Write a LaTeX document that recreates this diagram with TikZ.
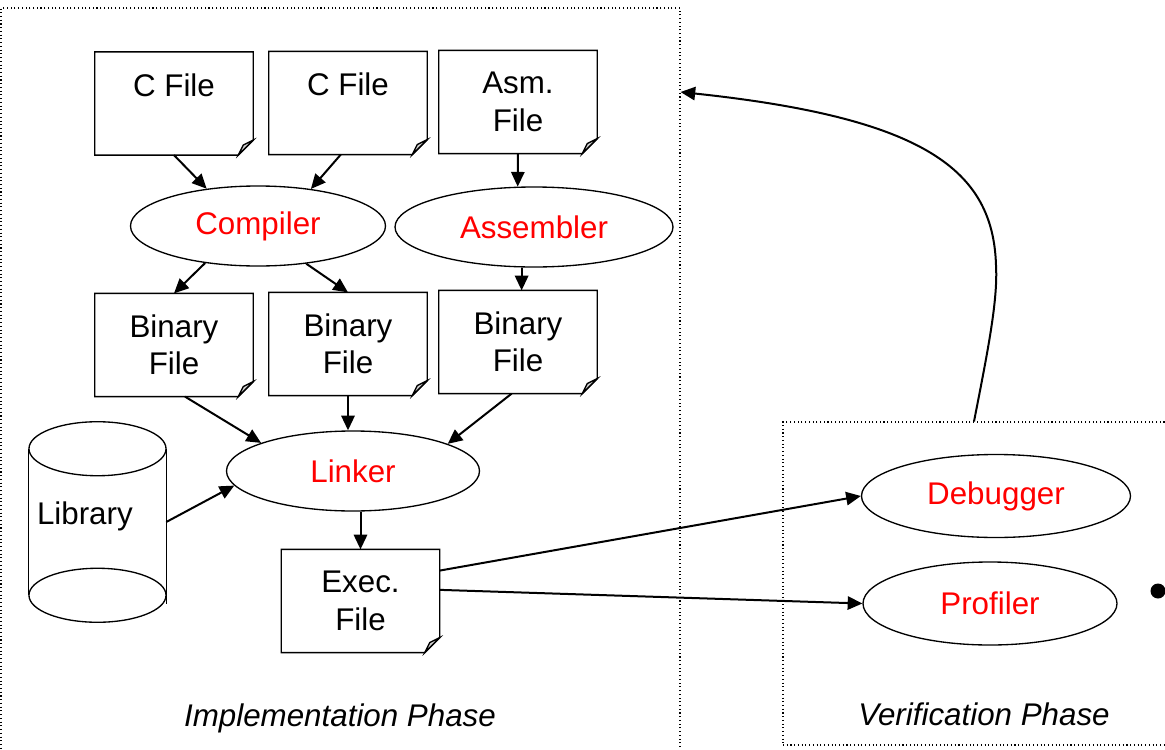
\documentclass[tikz,border=0pt]{standalone}
\usepackage{fontspec}
\setmainfont{Liberation Sans}
\usetikzlibrary{arrows.meta,shapes.geometric,positioning}

\begin{document}
\begin{tikzpicture}[x=0.75pt,y=-0.75pt,
  every node/.style={font=\fontsize{23.5}{28}\selectfont},
  file/.style={minimum width=118.5pt,minimum height=77pt,align=center,inner sep=0pt},
  tool/.style={ellipse,draw,line width=1pt,inner sep=0pt,minimum height=60pt,text=red},
  phase/.style={draw,dotted,line width=0.8pt,inner sep=0pt},
  note/.style={font=\itshape\fontsize{23.5}{28}\selectfont},
  link/.style={-{Triangle[length=11pt,width=10pt]},line width=1.5pt}]
\useasboundingbox (0,0) rectangle (1165,750);
\clip (0,0) rectangle (1165,750);

% phases
\node (impl) [phase,minimum width=509.25pt,minimum height=571.5pt] at (340.5,389) {};
\node (ver) [phase,minimum width=297.75pt,minimum height=242.25pt] at (981.5,583.5) {};
\node (implLbl) [note] at (340,718) {Implementation Phase};
\node (verLbl) [note] at (984,714) {Verification Phase};

% files
\node (cf1) [file] at (174,103.5) {C File\\\mbox{}};
\node (cf2) [file] at (348,103) {C File\\\mbox{}};
\node (asm) [file] at (518,102) {Asm.\\File};
\node (bin1) [file] at (174,345) {Binary\\File};
\node (bin2) [file] at (348,344) {Binary\\File};
\node (bin3) [file] at (518,342) {Binary\\File};
\node (exe) [file] at (360.5,601) {Exec.\\File};
\foreach \f in {cf1,cf2,asm,bin1,bin2,bin3,exe} {
  \draw[line width=1pt] (\f.north west) -- (\f.north east) -- ([yshift=11.25pt]\f.south east)
    -- ([xshift=-11.25pt]\f.south east) -- (\f.south west) -- cycle;
  \draw[line width=1pt,fill=gray!35] ([yshift=11.25pt]\f.south east)
    -- ([xshift=-7.5pt,yshift=7.5pt]\f.south east) -- ([xshift=-11.25pt]\f.south east) -- cycle;
}

% tools
\node (comp) [tool,minimum width=191.25pt] at (258,226) {Compiler};
\node (asmb) [tool,minimum width=208.5pt] at (534,227) {Assembler};
\node (link) [tool,minimum width=189.75pt] at (353,471) {Linker};
\node (dbg) [tool,minimum width=201.75pt,minimum height=62.25pt] at (996,496) {Debugger};
\node (prof) [tool,minimum width=190.5pt,minimum height=62.25pt] at (990,603.5) {Profiler};

% library
\node (lib) [minimum width=102.75pt,minimum height=150pt,text width=90.75pt,align=left,
  inner xsep=6pt,inner ysep=0pt] at (97.5,522) {\raisebox{13pt}{Library}};
\draw[line width=1pt] ([yshift=-20.25pt]lib.north) ellipse [x radius=51.4pt,y radius=20.25pt];
\draw[line width=1pt] ([yshift=20.25pt]lib.south) ellipse [x radius=51.4pt,y radius=20.25pt];
\draw[line width=1pt] ([yshift=-20.25pt]lib.north west) -- ([yshift=20.25pt]lib.south west)
  ([yshift=-20.25pt]lib.north east) -- ([yshift=14pt]lib.south east);

\node (dot) [circle,fill,inner sep=0pt,minimum size=11.25pt] at (1158,591) {};

% arrows
\path[link]
(cf1.south) edge (comp.144)
(cf2.262) edge (comp.35)
(asm.south) edge (asmb.112)
(comp.215) edge (bin1.north)
(comp.322) edge (bin2.north)
(asmb.253) edge (asmb.253 |- bin3.north)
(bin1.282) edge (link.163)
(bin2.south) edge (bin2.south |- link.north)
(bin3.263) edge (link.16)
(lib.east) edge (link.187)
(link.south -| exe.north) edge (exe.north)
(exe.21) edge (dbg.west)
(exe.8) edge (prof.west)
;
\draw[link] (ver.north -| 974,0) .. controls (988,350) and (998,300) .. (996,265)
  .. controls (993,170) and (925,118) .. (impl.east |- 0,92);
\end{tikzpicture}
\end{document}
